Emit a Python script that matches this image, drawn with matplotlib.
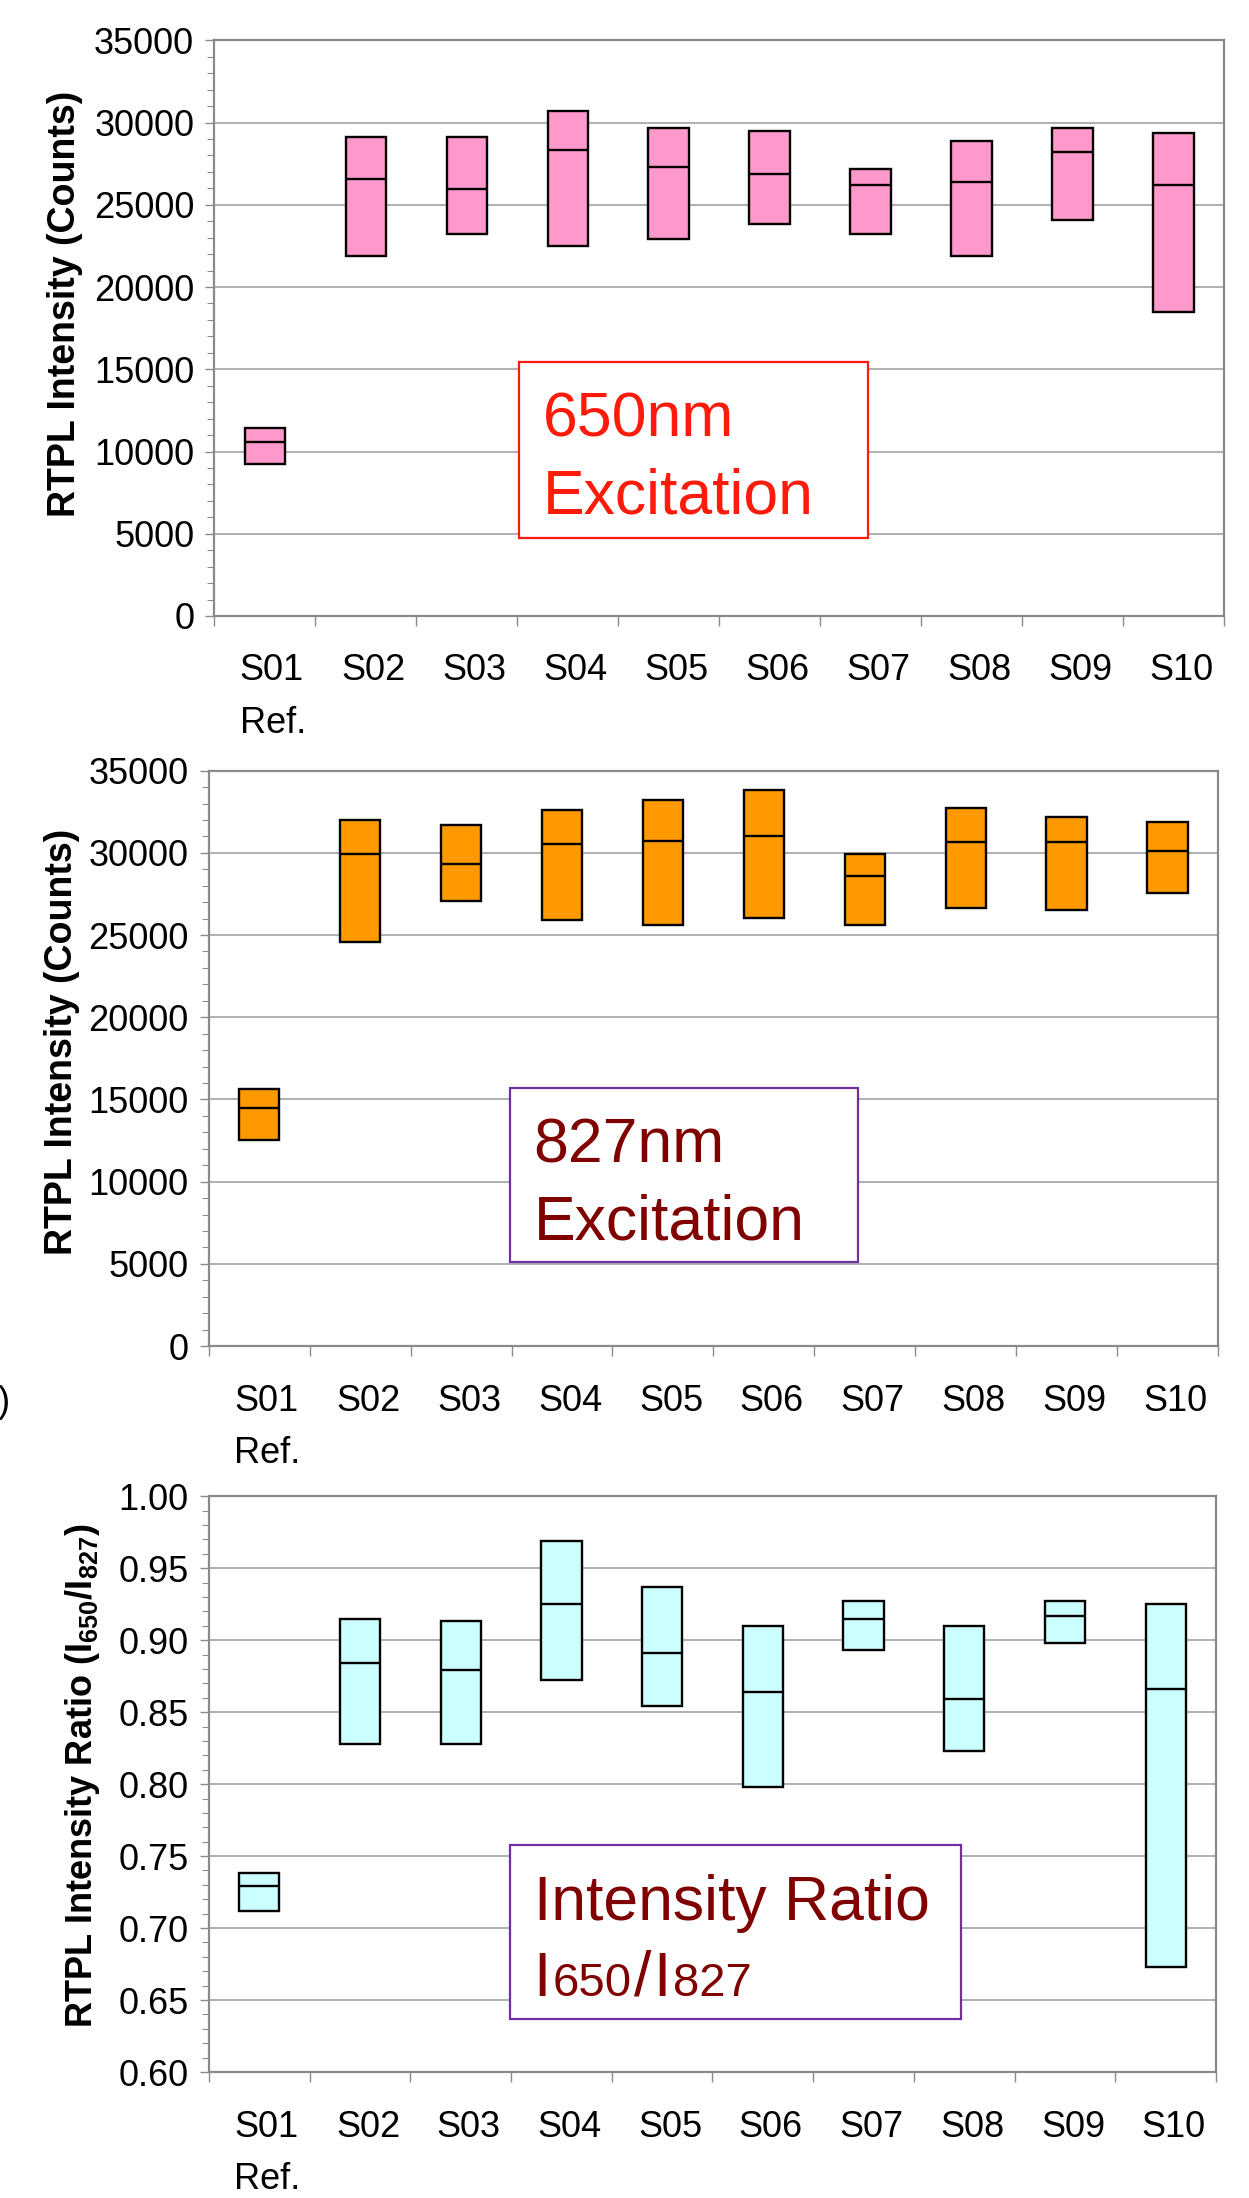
"""
RTPL intensity ranges per sample: 650nm excitation, 827nm excitation and their ratio
"""
import numpy as np
import matplotlib
matplotlib.use("Agg")
import matplotlib.pyplot as plt
from matplotlib.patches import Rectangle
from matplotlib.ticker import MultipleLocator, FixedLocator, FormatStrFormatter

plt.rcParams['font.family'] = ['Liberation Sans', 'DejaVu Sans']
plt.rcParams['mathtext.fontset'] = 'custom'
plt.rcParams['mathtext.rm'] = 'Liberation Sans'
plt.rcParams['mathtext.bf'] = 'Liberation Sans:bold'

samples = ["S01\nRef.", "S02", "S03", "S04", "S05", "S06", "S07", "S08", "S09", "S10"]

# 650nm excitation (counts): top of box, median line, bottom of box
i650_top = [11450, 29100, 29100, 30700, 29700, 29500, 27150, 28900, 29700, 29350]
i650_med = [10600, 26550, 25950, 28350, 27300, 26850, 26200, 26400, 28200, 26200]
i650_low = [9250, 21900, 23250, 22500, 22950, 23850, 23250, 21900, 24100, 18500]

# 827nm excitation (counts)
i827_top = [15650, 32000, 31700, 32600, 33200, 33800, 29950, 32750, 32150, 31850]
i827_med = [14450, 29950, 29350, 30550, 30700, 31000, 28600, 30650, 30650, 30100]
i827_low = [12550, 24550, 27100, 25900, 25600, 26050, 25600, 26650, 26500, 27550]

# ratio I650/I827
ratio_top = [0.738, 0.915, 0.913, 0.969, 0.937, 0.910, 0.927, 0.910, 0.927, 0.925]
ratio_med = [0.729, 0.884, 0.879, 0.925, 0.891, 0.864, 0.915, 0.859, 0.917, 0.866]
ratio_low = [0.712, 0.828, 0.828, 0.872, 0.854, 0.798, 0.893, 0.823, 0.898, 0.673]

GRAY = '#8a8a8a'
DPI = 100


def draw_panel(ax, top, med, low, face, ylim, major, minor, fmt):
    x = np.arange(len(samples))
    top = np.array(top)
    low = np.array(low)
    ax.bar(x, top - low, bottom=low, width=0.4, color=face, edgecolor='black',
           linewidth=1.7, zorder=3)
    ax.hlines(med, x - 0.2, x + 0.2, color='black', linewidth=1.7, zorder=4)

    ax.set_xlim(-0.5, len(samples) - 0.5)
    ax.set_ylim(*ylim)

    # labels a bit right of the centre, tick marks on category borders
    ax.set_xticks(x + 0.08)
    ax.set_xticklabels(samples, multialignment='left', linespacing=1.65)
    ax.xaxis.set_minor_locator(FixedLocator(np.arange(-0.5, len(samples), 1)))
    ax.tick_params(axis='x', which='major', length=0, pad=27, labelsize=26)
    ax.tick_params(axis='x', which='minor', length=7.5, width=1.0, color=GRAY)

    ax.yaxis.set_major_locator(MultipleLocator(major))
    ax.yaxis.set_minor_locator(MultipleLocator(minor))
    ax.yaxis.set_major_formatter(FormatStrFormatter(fmt))
    ax.tick_params(axis='y', which='major', length=6.5, width=1.0, color=GRAY,
                   pad=8, labelsize=26)
    ax.tick_params(axis='y', which='minor', length=5, width=0.8, color=GRAY)

    ax.yaxis.grid(True, which='major', color='#9a9a9a', linewidth=1.1, zorder=0)
    ax.set_axisbelow(True)
    for sp in ax.spines.values():
        sp.set_color(GRAY)
        sp.set_linewidth(1.6)


def note_box(ax, x0, y0, x1, y1, edge):
    ax.add_patch(Rectangle((x0, y0), x1 - x0, y1 - y0, transform=ax.transAxes,
                           facecolor='white', edgecolor=edge, linewidth=1.6, zorder=5))


def note_line(ax, x0, y1, parts, color, down, gap=0.0):
    # parts drawn one after another on a shared baseline
    renderer = ax.figure.canvas.get_renderer()
    dx = 17
    for txt, size in parts:
        t = ax.annotate(txt, xy=(x0, y1), xycoords='axes fraction',
                        xytext=(dx, -down), textcoords='offset points',
                        fontsize=size, color=color, ha='left', va='baseline', zorder=6)
        dx += t.get_window_extent(renderer).width * 72 / DPI + gap


fig = plt.figure(figsize=(12.49, 21.98), dpi=DPI)
ax1 = fig.add_axes([0.1716, 0.71975, 0.8084, 0.2619])
ax2 = fig.add_axes([0.1671, 0.3876, 0.8081, 0.2618])
ax3 = fig.add_axes([0.1673, 0.0573, 0.8063, 0.2620])

draw_panel(ax1, i650_top, i650_med, i650_low, '#ff99cc', (0, 35000), 5000, 1000, '%d')
draw_panel(ax2, i827_top, i827_med, i827_low, '#ff9900', (0, 35000), 5000, 1000, '%d')
draw_panel(ax3, ratio_top, ratio_med, ratio_low, '#ccffff', (0.6, 1.0), 0.05, 0.01, '%.2f')

# annotation boxes
note_box(ax1, 0.3018, 0.136, 0.6477, 0.4417, '#ff1a0a')
note_line(ax1, 0.3018, 0.4417, [("650nm", 45)], '#ff1a0a', 54)
note_line(ax1, 0.3018, 0.4417, [("Excitation", 45)], '#ff1a0a', 109)

note_box(ax2, 0.2985, 0.146, 0.643, 0.4485, '#7030a0')
note_line(ax2, 0.2985, 0.4485, [("827nm", 45)], '#800000', 54)
note_line(ax2, 0.2985, 0.4485, [("Excitation", 45)], '#800000', 109)

note_box(ax3, 0.299, 0.092, 0.7465, 0.394, '#7030a0')
note_line(ax3, 0.299, 0.394, [("Intensity Ratio", 45)], '#800000', 54)
note_line(ax3, 0.299, 0.394, [("I", 45), ("650", 34), ("/", 45), ("I", 45), ("827", 34)],
          '#800000', 108.5, gap=1.5)

# axis titles
fig.text(0.052, 0.8617, "RTPL Intensity (Counts)", rotation=90, ha='center', va='center',
         fontsize=27, fontweight='bold')
fig.text(0.0496, 0.5259, "RTPL Intensity (Counts)", rotation=90, ha='center', va='center',
         fontsize=27, fontweight='bold')
fig.text(0.0657, 0.192, r"RTPL Intensity Ratio (I$_\mathbf{650}$/I$_\mathbf{827}$)",
         rotation=90, ha='center', va='center', fontsize=26, fontweight='bold')

# cut-off panel mark at the left edge
fig.text(0.008, 1 - 1403 / 2198, ")", ha='right', va='center', fontsize=26)

fig.savefig("out.png", dpi=DPI)
